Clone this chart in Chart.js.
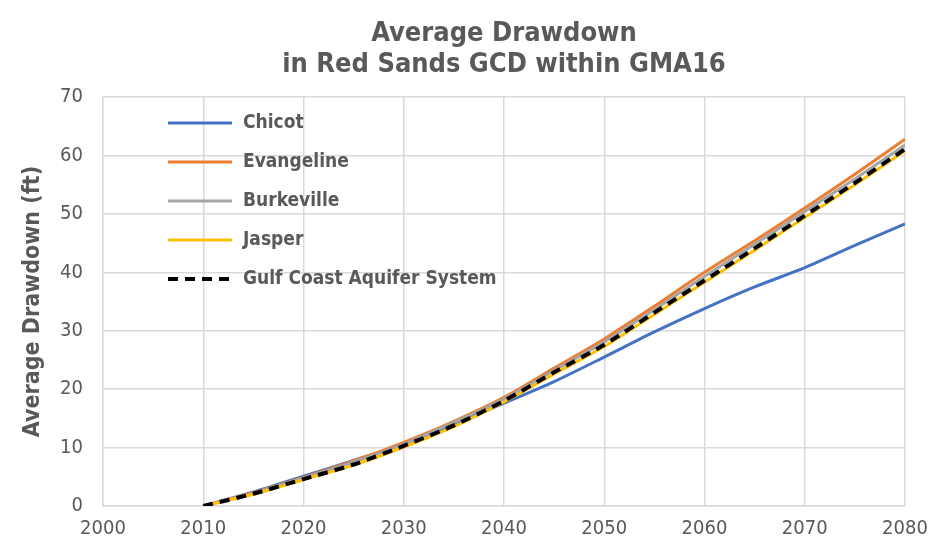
<!DOCTYPE html>
<html>
<head>
<meta charset="utf-8">
<script src="https://cdn.jsdelivr.net/npm/chart.js@4"></script>
<style>
  body { margin: 0; background: #fff; }
  #wrap { width: 952px; height: 549px; }
</style>
</head>
<body>
<div id="wrap"><canvas id="drawdownChart" width="952" height="549"></canvas></div>
<script>
// years the model reports (every 5 years)
const years = [2010, 2015, 2020, 2025, 2030, 2035, 2040, 2045, 2050, 2055, 2060, 2065, 2070, 2075, 2080];

// average drawdown (ft)
const chicot     = [0, 2.4, 5.1, 7.8, 10.6, 14.0, 17.6, 21.3, 25.5, 29.8, 33.8, 37.5, 40.8, 44.6, 48.3];
const evangeline = [0, 2.3, 4.9, 7.7, 10.9, 14.5, 18.6, 23.6, 28.6, 34.2, 40.0, 45.4, 51.0, 56.8, 62.8];
const burkeville = [0, 2.2, 4.8, 7.5, 10.6, 14.3, 18.3, 23.2, 28.1, 33.6, 39.3, 44.8, 50.4, 56.0, 61.8];
const jasper     = [0, 2.0, 4.5, 7.0, 10.1, 13.6, 17.8, 22.6, 27.3, 32.8, 38.3, 43.8, 49.4, 55.0, 60.8];
const gulfCoast  = [0, 2.1, 4.6, 7.1, 10.3, 13.8, 18.0, 22.9, 27.6, 33.1, 38.6, 44.1, 49.7, 55.3, 61.1];

const xTicks = [2000, 2010, 2020, 2030, 2040, 2050, 2060, 2070, 2080];
const yTicks = [0, 10, 20, 30, 40, 50, 60, 70];

const fontFamily = "'Liberation Sans Narrow', 'DejaVu Sans Condensed', 'Noto Sans', sans-serif";
const textGrey = '#595959';
const gridGrey = '#d9d9d9';

function points(values) {
    return values.map(function (v, i) { return { x: years[i], y: v }; });
}

function series(label, values, color, width, dash, order) {
    return {
        label: label,
        data: points(values),
        borderColor: color,
        backgroundColor: color,
        borderWidth: width,
        borderDash: dash,
        pointRadius: 0,
        tension: 0.25,
        order: order
    };
}

// legend drawn inside the plot, top-left, one row per series
const insideLegend = {
    id: 'insideLegend',
    afterDraw(chart) {
        const ctx = chart.ctx;
        const area = chart.chartArea;
        let x0 = area.left + 65;
        let y = area.top + 26;
        ctx.save();
        ctx.font = 'bold 19px ' + fontFamily;
        ctx.textBaseline = 'middle';
        chart.data.datasets.forEach(function (ds) {
            ctx.strokeStyle = ds.borderColor;
            ctx.lineWidth = ds.borderWidth;
            ctx.setLineDash(ds.borderDash || []);
            ctx.beginPath();
            ctx.moveTo(x0, y);
            ctx.lineTo(x0 + 64, y);
            ctx.stroke();
            ctx.setLineDash([]);
            ctx.fillStyle = textGrey;
            ctx.fillText(ds.label, x0 + 75, y);
            y += 39;
        });
        ctx.restore();
    }
};

const ctx = document.getElementById('drawdownChart').getContext('2d');

new Chart(ctx, {
    type: 'line',
    data: {
        datasets: [
            series('Chicot', chicot, '#4472C4', 3, [], 4),
            series('Evangeline', evangeline, '#ED7D31', 3, [], 3),
            series('Burkeville', burkeville, '#A5A5A5', 3, [], 2),
            series('Jasper', jasper, '#FFC000', 3, [], 1),
            series('Gulf Coast Aquifer System', gulfCoast, '#000000', 4, [10, 7], 0)
        ]
    },
    options: {
        responsive: false,
        animation: false,
        layout: { padding: { left: 19, right: 47, top: 8, bottom: 6 } },
        plugins: {
            legend: { display: false },
            tooltip: { enabled: false },
            title: {
                display: true,
                fullSize: false,
                text: ['Average Drawdown', 'in Red Sands GCD within GMA16'],
                color: textGrey,
                font: { family: fontFamily, size: 27, weight: 'bold', lineHeight: 1.15 },
                padding: { top: 10, bottom: 17 }
            }
        },
        scales: {
            x: {
                type: 'linear',
                min: xTicks[0],
                max: xTicks[xTicks.length - 1],
                afterBuildTicks: function (scale) {
                    scale.ticks = xTicks.map(function (v) { return { value: v }; });
                },
                afterFit: function (scale) { scale.height = 37; },
                grid: { color: gridGrey, lineWidth: 1.5, drawTicks: false },
                border: { color: gridGrey, width: 1.5 },
                ticks: {
                    color: textGrey,
                    padding: 11,
                    font: { family: fontFamily, size: 20 },
                    callback: function (v) { return String(v); }
                }
            },
            y: {
                min: yTicks[0],
                max: yTicks[yTicks.length - 1],
                afterBuildTicks: function (scale) {
                    scale.ticks = yTicks.map(function (v) { return { value: v }; });
                },
                afterFit: function (scale) { scale.width = 84; },
                grid: { color: gridGrey, lineWidth: 1.5, drawTicks: false },
                border: { color: gridGrey, width: 1.5 },
                title: {
                    display: true,
                    text: 'Average Drawdown (ft)',
                    color: textGrey,
                    font: { family: fontFamily, size: 23, weight: 'bold' },
                    padding: { top: 0, bottom: 6 }
                },
                ticks: {
                    color: textGrey,
                    padding: 20,
                    font: { family: fontFamily, size: 20 }
                }
            }
        }
    },
    plugins: [insideLegend]
});
</script>
</body>
</html>
